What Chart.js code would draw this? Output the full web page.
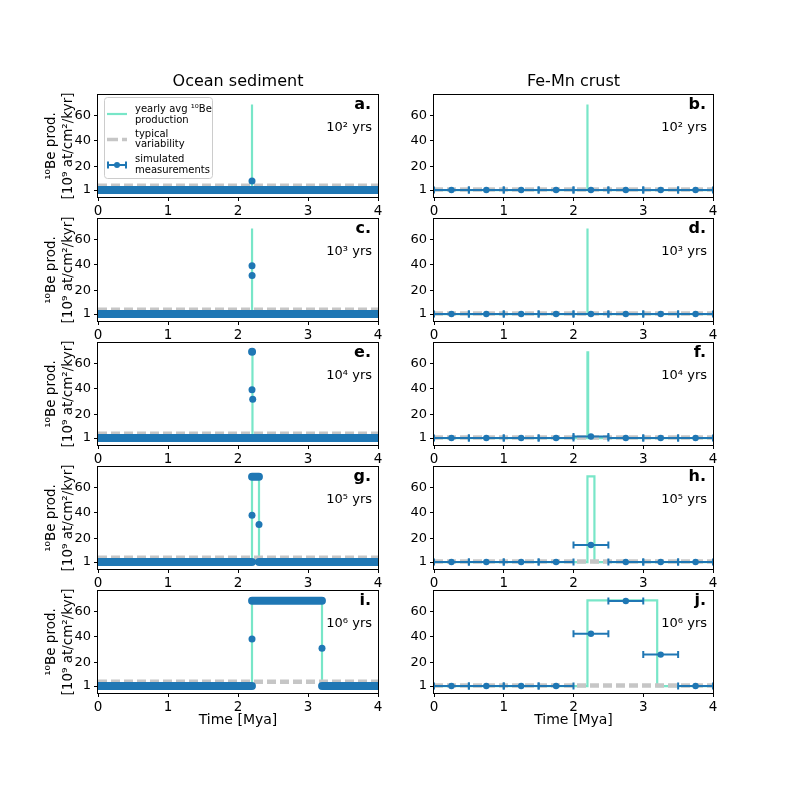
<!DOCTYPE html>
<html>
<head>
<meta charset="utf-8">
<script src="https://cdn.jsdelivr.net/npm/chart.js@4.4.1/dist/chart.umd.min.js"></script>
<style>
  body { margin: 0; background: #fff; }
  #fig { position: relative; width: 793px; height: 793px; overflow: hidden; background: #fff; }
  #fig canvas { position: absolute; }
</style>
</head>
<body>
<div id="fig"></div>
<script>
// ---- data ----
var timeTicks = [0, 1, 2, 3, 4];
var prodTicks = [1, 20, 40, 60];
var prodMin = -4.5, prodMax = 76.5;

var columnTitles = ['Ocean sediment', 'Fe-Mn crust'];
var panelLetters = [['a.', 'b.'], ['c.', 'd.'], ['e.', 'f.'], ['g.', 'h.'], ['i.', 'j.']];
var durationLabels = ['10² yrs', '10³ yrs', '10⁴ yrs', '10⁵ yrs', '10⁶ yrs'];

// production event: 10Be step from baseline to eventLevel at 2.2 Mya
var eventDurations = [0.0001, 0.001, 0.01, 0.1, 1];   // Myr
var eventStart = 2.2;
var eventLevel = 69;
var baseLevel = 1;
var variabilityLevel = [4.5, 1.4];   // sediment column, crust column

// ocean sediment: 1 kyr samples, drawn as runs [from, to, value] ...
var sedimentRuns = [
  [[0, 2.199, 1], [2.201, 4, 1]],
  [[0, 2.199, 1], [2.202, 4, 1]],
  [[0, 2.199, 1], [2.201, 2.209, 69.5], [2.211, 4, 1]],
  [[0, 2.199, 1], [2.201, 2.299, 68.7], [2.301, 4, 1]],
  [[0, 2.199, 1], [2.201, 3.199, 68.7], [3.201, 4, 1]]
];
// ... plus the partially covered samples at the edges of the event
var sedimentPoints = [
  [[2.2, 8.3]],
  [[2.2, 39.3], [2.201, 31.7]],
  [[2.2, 39.3], [2.21, 31.8]],
  [[2.2, 38.2], [2.3, 30.9]],
  [[2.2, 38.3], [3.2, 31.0]]
];

// Fe-Mn crust: 0.5 Myr samples
var crustTimes = [0.25, 0.75, 1.25, 1.75, 2.25, 2.75, 3.25, 3.75];
var crustHalfWidth = 0.25;
var crustValues = [
  [1, 1, 1, 1, 1, 1, 1, 1],
  [1, 1, 1, 1, 1, 1, 1, 1],
  [1, 1, 1, 1, 2.3, 1, 1, 1],
  [1, 1, 1, 1, 14.6, 1, 1, 1],
  [1, 1, 1, 1, 42.5, 68.5, 26, 1]
];

// ---- layout / style ----
var FONT = "'DejaVu Sans', sans-serif";
var BLUE = '#1f77b4', GREEN = '#78e6c8', GREY = '#c6c6c6';
var colLeft = [98, 434], colRight = [378, 713];
var rowTop = [95, 219, 343, 467, 591], areaH = 102;
var canvasLeft = [0, 390], canvasWidth = [390, 403];
var padTop = 30;

function productionLine(d) {
  return [
    { x: 0, y: baseLevel }, { x: eventStart, y: baseLevel },
    { x: eventStart, y: eventLevel }, { x: eventStart + d, y: eventLevel },
    { x: eventStart + d, y: baseLevel }, { x: 4, y: baseLevel }
  ];
}

function runData(runs) {
  var out = [];
  runs.forEach(function (r, i) {
    if (i > 0) out.push({ x: r[0], y: null });
    out.push({ x: r[0], y: r[2] }, { x: r[1], y: r[2] });
  });
  return out;
}

function drawErrorBars(chart, row) {
  var ctx = chart.ctx, xs = chart.scales.x, ys = chart.scales.y, a = chart.chartArea;
  ctx.save();
  ctx.beginPath();
  ctx.rect(a.left, a.top, a.right - a.left, a.bottom - a.top);
  ctx.clip();
  ctx.strokeStyle = BLUE;
  ctx.lineWidth = 2;
  crustTimes.forEach(function (t, i) {
    var y = ys.getPixelForValue(crustValues[row][i]);
    var x0 = xs.getPixelForValue(t - crustHalfWidth);
    var x1 = xs.getPixelForValue(t + crustHalfWidth);
    ctx.beginPath();
    ctx.moveTo(x0, y); ctx.lineTo(x1, y);
    ctx.moveTo(x0, y - 3.5); ctx.lineTo(x0, y + 3.5);
    ctx.moveTo(x1, y - 3.5); ctx.lineTo(x1, y + 3.5);
    ctx.stroke();
  });
  ctx.restore();
}

// legend of panel a, positions relative to the axes corner
function drawLegend(ctx, a) {
  var x = a.left, y = a.top;
  ctx.save();
  ctx.beginPath();
  ctx.roundRect(x + 6.5, y + 2.5, 108, 81, 3);
  ctx.fillStyle = 'rgba(255,255,255,0.8)';
  ctx.fill();
  ctx.strokeStyle = '#cccccc';
  ctx.lineWidth = 1;
  ctx.stroke();

  ctx.lineWidth = 2.2;
  ctx.strokeStyle = GREEN;
  ctx.beginPath(); ctx.moveTo(x + 9, y + 19); ctx.lineTo(x + 29, y + 19); ctx.stroke();

  ctx.lineWidth = 3.5;
  ctx.strokeStyle = GREY;
  ctx.setLineDash([11, 4]);
  ctx.beginPath(); ctx.moveTo(x + 9, y + 44.5); ctx.lineTo(x + 29, y + 44.5); ctx.stroke();
  ctx.setLineDash([]);

  ctx.lineWidth = 2;
  ctx.strokeStyle = BLUE;
  ctx.beginPath();
  ctx.moveTo(x + 10, y + 70); ctx.lineTo(x + 28, y + 70);
  ctx.moveTo(x + 10, y + 66.5); ctx.lineTo(x + 10, y + 73.5);
  ctx.moveTo(x + 28, y + 66.5); ctx.lineTo(x + 28, y + 73.5);
  ctx.stroke();
  ctx.fillStyle = BLUE;
  ctx.beginPath(); ctx.arc(x + 19, y + 70, 3, 0, Math.PI * 2); ctx.fill();

  ctx.fillStyle = '#000';
  ctx.font = '10px ' + FONT;
  ctx.textAlign = 'left';
  ctx.textBaseline = 'middle';
  ctx.fillText('yearly avg ¹⁰Be', x + 37, y + 14.5);
  ctx.fillText('production', x + 37, y + 25.5);
  ctx.fillText('typical', x + 37, y + 39.5);
  ctx.fillText('variability', x + 37, y + 49.5);
  ctx.fillText('simulated', x + 37, y + 64.5);
  ctx.fillText('measurements', x + 37, y + 75.5);
  ctx.restore();
}

function decor(col, row) {
  return {
    id: 'decor',
    beforeDatasetDraw: function (chart, args) {
      if (col === 1 && args.index === 0) drawErrorBars(chart, row);
    },
    afterDraw: function (chart) {
      var ctx = chart.ctx, a = chart.chartArea;
      ctx.save();
      ctx.strokeStyle = '#000';
      ctx.lineWidth = 1;
      ctx.strokeRect(Math.round(a.left) - 0.5, Math.round(a.top) - 0.5,
        Math.round(a.right - a.left) + 1, Math.round(a.bottom - a.top) + 1);

      ctx.fillStyle = '#000';
      ctx.textAlign = 'right';
      ctx.textBaseline = 'middle';
      ctx.font = 'bold 16px ' + FONT;
      ctx.fillText(panelLetters[row][col], a.right - 7, a.top + 10);
      ctx.font = '13px ' + FONT;
      ctx.fillText(durationLabels[row], a.right - 6, a.top + 33);

      ctx.textAlign = 'center';
      var cx = (a.left + a.right) / 2;
      if (row === 0) {
        ctx.font = '16px ' + FONT;
        ctx.fillText(columnTitles[col], cx, a.top - 13);
      }
      if (row === 4) {
        ctx.font = '14px ' + FONT;
        ctx.fillText('Time [Mya]', cx, a.bottom + 27);
      }
      if (col === 0) {
        ctx.font = '13.5px ' + FONT;
        var cy = (a.top + a.bottom) / 2;
        ctx.save();
        ctx.translate(a.left - 47, cy);
        ctx.rotate(-Math.PI / 2);
        ctx.fillText('¹⁰Be prod.', 0, 0);
        ctx.restore();
        ctx.save();
        ctx.translate(a.left - 30, cy);
        ctx.rotate(-Math.PI / 2);
        ctx.fillText('[10⁹ at/cm²/kyr]', 0, 0);
        ctx.restore();
      }
      if (col === 0 && row === 0) drawLegend(ctx, a);
      ctx.restore();
    }
  };
}

function makePanel(col, row) {
  var bottomH = row === 4 ? 45 : 24;
  var leftW = colLeft[col] - canvasLeft[col];
  var rightPad = canvasLeft[col] + canvasWidth[col] - colRight[col];
  var cv = document.createElement('canvas');
  cv.width = canvasWidth[col];
  cv.height = padTop + areaH + bottomH;
  cv.style.left = canvasLeft[col] + 'px';
  cv.style.top = (rowTop[row] - padTop) + 'px';
  document.getElementById('fig').appendChild(cv);

  var grey = {
    data: [{ x: 0, y: variabilityLevel[col] }, { x: 4, y: variabilityLevel[col] }],
    borderColor: GREY, borderWidth: 4.5, borderDash: [9, 4],
    pointRadius: 0, clip: 0
  };
  var green = {
    data: productionLine(eventDurations[row]),
    borderColor: GREEN, borderWidth: 2.2, pointRadius: 0, clip: 0
  };
  var datasets;
  if (col === 0) {
    datasets = [
      {
        data: sedimentPoints[row].map(function (p) { return { x: p[0], y: p[1] }; }),
        showLine: false, pointRadius: 3.5, pointBorderWidth: 0,
        pointBackgroundColor: BLUE, clip: 0
      },
      {
        data: runData(sedimentRuns[row]),
        borderColor: BLUE, borderWidth: 8, borderCapStyle: 'round',
        pointRadius: 0, spanGaps: false, clip: 0
      },
      grey, green
    ];
  } else {
    datasets = [
      {
        data: crustTimes.map(function (t, i) { return { x: t, y: crustValues[row][i] }; }),
        showLine: false, pointRadius: 3.2, pointBorderWidth: 0,
        pointBackgroundColor: BLUE, clip: 0
      },
      grey, green
    ];
  }

  new Chart(cv.getContext('2d'), {
    type: 'line',
    data: { datasets: datasets },
    options: {
      responsive: false,
      animation: false,
      devicePixelRatio: 1,
      events: [],
      layout: { padding: { left: 0, right: rightPad, top: padTop, bottom: 0 } },
      plugins: { legend: { display: false }, tooltip: { enabled: false } },
      scales: {
        x: {
          type: 'linear', min: 0, max: 4,
          afterBuildTicks: function (s) { s.ticks = timeTicks.map(function (v) { return { value: v }; }); },
          afterFit: function (s) { s.height = bottomH; },
          grid: { drawOnChartArea: false, tickLength: 4, color: '#000', lineWidth: 1 },
          border: { display: false },
          ticks: { color: '#000', font: { family: FONT, size: 13.5 }, padding: 2, maxRotation: 0, autoSkip: false }
        },
        y: {
          type: 'linear', min: prodMin, max: prodMax,
          afterBuildTicks: function (s) { s.ticks = prodTicks.map(function (v) { return { value: v }; }); },
          afterFit: function (s) { s.width = leftW; },
          grid: { drawOnChartArea: false, tickLength: 4, color: '#000', lineWidth: 1 },
          border: { display: false },
          ticks: { color: '#000', font: { family: FONT, size: 13 }, padding: 3, autoSkip: false }
        }
      }
    },
    plugins: [decor(col, row)]
  });
}

for (var r = 0; r < 5; r++) {
  makePanel(0, r);
  makePanel(1, r);
}
</script>
</body>
</html>
